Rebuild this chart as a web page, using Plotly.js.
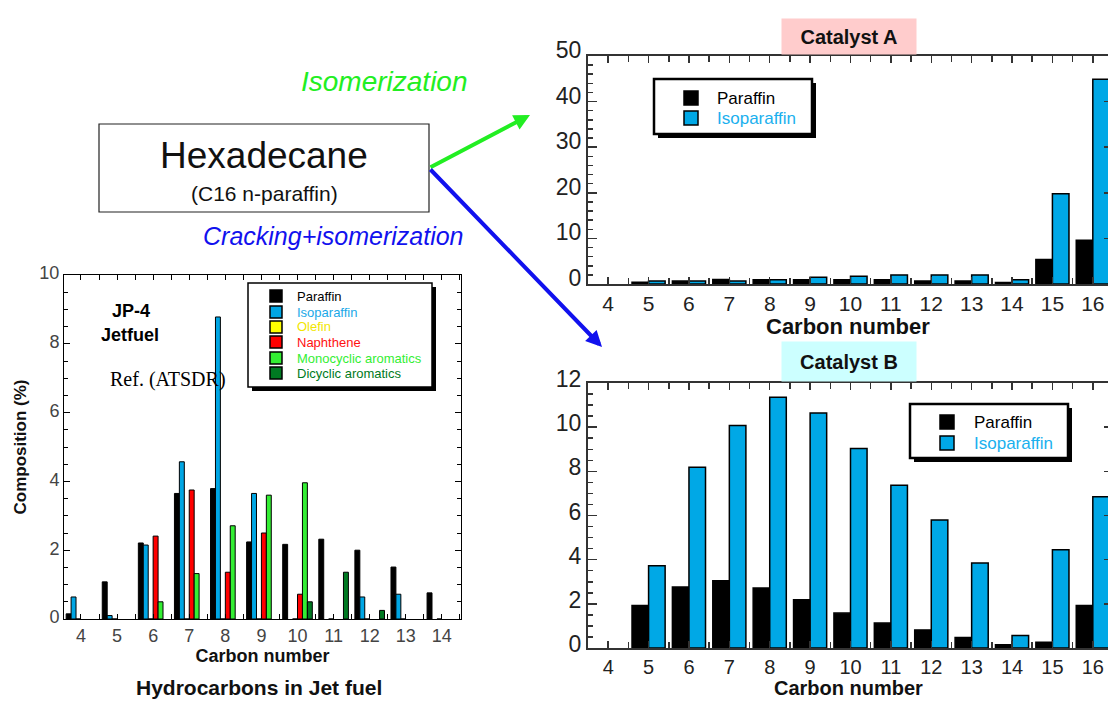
<!DOCTYPE html>
<html>
<head>
<meta charset="utf-8">
<script src="https://cdn.plot.ly/plotly-3.0.1.min.js"></script>
<style>
html, body { margin: 0; padding: 0; overflow: hidden; background: #fff; }
#chart { width: 1116px; height: 701px; }
</style>
</head>
<body>
<div id="chart"></div>
<script>
// ---------- data ----------
const jpCarbon = [4, 5, 6, 7, 8, 9, 10, 11, 12, 13, 14];
const jpParaffin    = [0.15, 1.08, 2.21, 3.65, 3.79, 2.24, 2.17, 2.32, 2.0, 1.51, 0.76];
const jpIsoparaffin = [0.64, 0.10, 2.15, 4.57, 8.78, 3.65, null, null, 0.64, 0.72, null];
const jpOlefin      = [0, 0, 0, 0, 0, 0, 0, 0, 0, 0, 0];
const jpNaphthene   = [null, null, 2.41, 3.75, 1.36, 2.50, 0.72, null, null, null, null];
const jpMonoArom    = [null, null, 0.50, 1.32, 2.71, 3.60, 3.96, null, null, null, null];
const jpDiArom      = [null, null, null, null, null, null, 0.50, 1.36, 0.25, null, null];
const jpNames = ['Paraffin', 'Isoparaffin', 'Olefin', 'Naphthene', 'Monocyclic aromatics', 'Dicyclic aromatics'];

const catCarbon = [4, 5, 6, 7, 8, 9, 10, 11, 12, 13, 14, 15, 16];
const catAParaffin    = [null, 0.40, 0.65, 1.00, 0.95, 0.95, 0.95, 0.95, 0.65, 0.65, 0.35, 5.4, 9.6];
const catAIsoparaffin = [null, 0.65, 0.65, 0.65, 0.95, 1.50, 1.70, 2.00, 2.00, 2.00, 0.95, 19.8, 44.9];
const catBParaffin    = [null, 1.92, 2.76, 3.05, 2.72, 2.19, 1.58, 1.13, 0.82, 0.48, 0.15, 0.26, 1.93];
const catBIsoparaffin = [null, 3.73, 8.18, 10.08, 11.35, 10.64, 9.03, 7.37, 5.80, 3.85, 0.57, 4.45, 6.85];
const catNames = ['Paraffin', 'Isoparaffin'];

const jpTicks = [4, 5, 6, 7, 8, 9, 10, 11, 12, 13, 14];
const catTicks = [4, 5, 6, 7, 8, 9, 10, 11, 12, 13, 14, 15, 16];

// ---------- styling ----------
const W = 1116, H = 701;
const X = p => p / W;
const Y = p => 1 - p / H;
const SANS = '"Liberation Sans", Arial, sans-serif';
const SERIF = '"Liberation Serif", "Times New Roman", serif';
const jpFill = ['#000000', '#00a6e4', '#ffff00', '#ff0000', '#33ee33', '#007a22'];
const jpText = ['#000000', '#1aa8e8', '#f2e600', '#ff1010', '#33ee33', '#007a22'];
const catFill = ['#000000', '#00a8e6'];
const catText = ['#000000', '#1ab0ee'];

const jpSeries = [jpParaffin, jpIsoparaffin, jpOlefin, jpNaphthene, jpMonoArom, jpDiArom];
const traces = [];
jpSeries.forEach((s, i) => {
  traces.push({
    type: 'bar', x: jpCarbon, y: s, name: jpNames[i], xaxis: 'x', yaxis: 'y',
    showlegend: false,
    marker: { color: jpFill[i], line: { color: '#000', width: 1 } }
  });
});
[[catAParaffin, catAIsoparaffin, 'x2', 'y2'],
 [catBParaffin, catBIsoparaffin, 'x3', 'y3']].forEach(cfg => {
  [cfg[0], cfg[1]].forEach((s, i) => {
    traces.push({
      type: 'bar', x: catCarbon, y: s, xaxis: cfg[2], yaxis: cfg[3], showlegend: false,
      name: catNames[i],
      marker: { color: catFill[i], line: { color: '#000', width: 1.5 } }
    });
  });
});

function catXAxis(fs) {
  return {
    domain: [X(588), X(1113)], range: [3.5, 16.5],
    tickvals: catTicks, ticktext: catTicks.map(String),
    ticks: 'inside', ticklen: 7, tickwidth: 1.5, tickcolor: '#333',
    minor: { dtick: 0.5, tick0: 0, ticks: 'inside', ticklen: 6, tickwidth: 1.5, tickcolor: '#333' },
    showline: true, linecolor: '#333', linewidth: 2, mirror: 'allticks',
    showgrid: false, zeroline: false,
    tickfont: { family: SANS, size: fs, color: '#222' }
  };
}

const layout = {
  width: W, height: H,
  margin: { l: 0, r: 0, t: 0, b: 0 },
  paper_bgcolor: '#fff', plot_bgcolor: 'rgba(0,0,0,0)',
  barmode: 'group', bargap: 0.18, bargroupgap: 0,
  showlegend: false,
  font: { family: SANS, color: '#000' },
  xaxis: {
    domain: [X(64), X(461)], range: [3.53, 14.53],
    tickvals: jpTicks, ticktext: jpTicks.map(String),
    ticks: 'inside', ticklen: 5, tickcolor: '#000',
    minor: { dtick: 0.5, tick0: 0, ticks: 'inside', ticklen: 5, tickcolor: '#000' },
    showline: true, linecolor: '#000', linewidth: 1, mirror: 'allticks',
    showgrid: false, zeroline: false,
    tickfont: { family: SANS, size: 18, color: '#444' },
    title: { text: '<b>Carbon number</b>', font: { family: SANS, size: 18, color: '#111' }, standoff: 4 }
  },
  yaxis: {
    domain: [Y(619), Y(275)], range: [0, 10], dtick: 2, tick0: 0,
    ticks: 'inside', ticklen: 6, tickcolor: '#000',
    minor: { dtick: 0.5, tick0: 0, ticks: 'inside', ticklen: 4, tickcolor: '#000' },
    showline: true, linecolor: '#000', linewidth: 1, mirror: 'allticks',
    showgrid: false, zeroline: false,
    tickfont: { family: SANS, size: 18, color: '#444' },
    ticklabelshift: -2,
    title: { text: '<b>Composition (%)</b>', font: { family: SANS, size: 17, color: '#111' }, standoff: 8 }
  },
  xaxis2: Object.assign(catXAxis(21), { anchor: 'y2' }),
  yaxis2: {
    domain: [Y(284), Y(56)], range: [0, 50], dtick: 10, tick0: 0, anchor: 'x2',
    ticks: 'inside', ticklen: 9, tickwidth: 1.5, tickcolor: '#333',
    minor: { dtick: 2, tick0: 0, ticks: 'inside', ticklen: 5, tickwidth: 1.5, tickcolor: '#333' },
    showline: true, linecolor: '#333', linewidth: 2, mirror: 'allticks',
    showgrid: false, zeroline: false,
    tickfont: { family: SANS, size: 23, color: '#222' },
    ticklabelshift: -6
  },
  xaxis3: Object.assign(catXAxis(20), { anchor: 'y3' }),
  yaxis3: {
    domain: [Y(648), Y(383)], range: [0, 12], dtick: 2, tick0: 0, anchor: 'x3',
    ticks: 'inside', ticklen: 9, tickwidth: 1.5, tickcolor: '#333',
    minor: { dtick: 0.5, tick0: 0, ticks: 'inside', ticklen: 5, tickwidth: 1.5, tickcolor: '#333' },
    showline: true, linecolor: '#333', linewidth: 2, mirror: 'allticks',
    showgrid: false, zeroline: false,
    tickfont: { family: SANS, size: 23, color: '#222' },
    ticklabelshift: -4
  },
  shapes: [],
  annotations: []
};

// Hexadecane box
layout.shapes.push({ type: 'rect', xref: 'paper', yref: 'paper', x0: X(99), x1: X(429), y0: Y(212), y1: Y(124),
  line: { color: '#222', width: 1.2 }, fillcolor: '#fff', layer: 'below' });

// legend frames with shadows
function framedBox(x0, y0, x1, y1, off, lw) {
  layout.shapes.push({ type: 'rect', xref: 'paper', yref: 'paper', x0: X(x0 + off), x1: X(x1 + off), y0: Y(y1 + off), y1: Y(y0 + off),
    line: { width: 0 }, fillcolor: '#000', layer: 'above' });
  layout.shapes.push({ type: 'rect', xref: 'paper', yref: 'paper', x0: X(x0), x1: X(x1), y0: Y(y1), y1: Y(y0),
    line: { color: '#000', width: lw }, fillcolor: '#fff', layer: 'above' });
}
framedBox(248, 283, 432, 387, 4, 1.5);
framedBox(654, 79, 812, 134, 4, 2.5);
framedBox(910, 404, 1068, 458, 4, 2.5);

// legends (built from series names and colours)
function legendBlock(names, fills, textColors, mx, tx, ys, half, fsize) {
  names.forEach((n, i) => {
    const yc = ys[i];
    layout.shapes.push({ type: 'rect', xref: 'paper', yref: 'paper', x0: X(mx - half), x1: X(mx + half), y0: Y(yc + half), y1: Y(yc - half),
      line: { color: '#000', width: 1.5 }, fillcolor: fills[i], layer: 'above' });
    layout.annotations.push({ xref: 'paper', yref: 'paper', x: X(tx), y: Y(yc), xanchor: 'left', yanchor: 'middle',
      text: n, showarrow: false, font: { family: SANS, size: fsize, color: textColors[i] } });
  });
}
legendBlock(jpNames, jpFill, jpText, 276, 295, [296, 312, 327, 342, 358, 373], 6, 13);
legendBlock(catNames, catFill, catText, 691, 715, [98, 118], 7, 17);
legendBlock(catNames, catFill, catText, 947, 972, [422, 443], 7, 17);

function txt(t, x, y, size, opts) {
  layout.annotations.push(Object.assign({ xref: 'paper', yref: 'paper', x: X(x), y: Y(y), xanchor: 'center', yanchor: 'middle',
    text: t, showarrow: false, font: { family: SANS, size: size, color: '#000' } }, opts || {}));
}
txt('<b>JP-4</b>', 131, 311, 18);
txt('<b>Jetfuel</b>', 130, 335, 18);
txt('Ref. (ATSDR)', 168, 379, 20, { font: { family: SERIF, size: 20, color: '#000' } });
txt('<b>Hydrocarbons in Jet fuel</b>', 259, 701, 21, { yanchor: 'bottom', font: { family: SANS, size: 21, color: '#111' } });

txt('Hexadecane', 264, 155, 37, { font: { family: SANS, size: 37, color: '#111' } });
txt('(C16 n-paraffin)', 264, 193, 21, { font: { family: SANS, size: 21, color: '#111' } });
txt('<i>Isomerization</i>', 384, 81, 28, { font: { family: SANS, size: 28, color: '#22ee22' } });
txt('<i>Cracking+isomerization</i>', 333, 236, 25, { font: { family: SANS, size: 25, color: '#1111ee' } });

// catalyst panel titles and axis titles
txt('<b>Catalyst A</b>', 849, 36, 20, { bgcolor: '#ffcccc', width: 132, height: 33, font: { family: SANS, size: 20, color: '#111' } });
txt('<b>Catalyst B</b>', 849, 361, 20, { bgcolor: '#ccffff', width: 132, height: 37, font: { family: SANS, size: 20, color: '#111' } });
txt('<b>Carbon number</b>', 848, 326, 22, { font: { family: SANS, size: 22, color: '#111' } });
txt('<b>Carbon number</b>', 848, 701, 20, { yanchor: 'bottom', font: { family: SANS, size: 20, color: '#111' } });

// arrows
layout.annotations.push({ xref: 'paper', yref: 'paper', x: X(530), y: Y(115), ax: 429 - 530, ay: 168 - 115,
  text: '', showarrow: true, arrowhead: 2, arrowsize: 0.8, arrowwidth: 4, arrowcolor: '#22ee22', standoff: 0 });
layout.annotations.push({ xref: 'paper', yref: 'paper', x: X(602), y: Y(347), ax: 429 - 602, ay: 168 - 347,
  text: '', showarrow: true, arrowhead: 2, arrowsize: 0.8, arrowwidth: 4, arrowcolor: '#1111ee', standoff: 0 });

Plotly.newPlot('chart', traces, layout, { displayModeBar: false, staticPlot: true });
</script>
</body>
</html>
